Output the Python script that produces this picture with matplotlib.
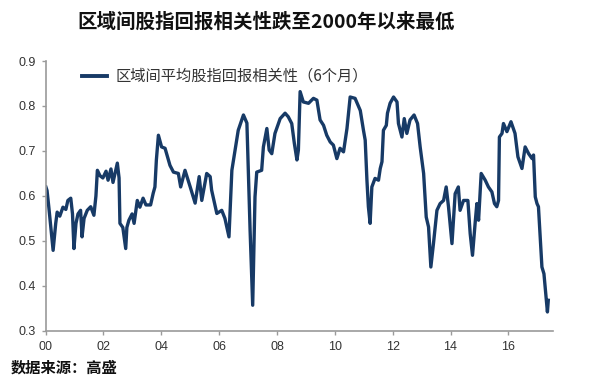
import matplotlib
matplotlib.use("Agg")
import matplotlib.pyplot as plt

plt.rcParams['font.family'] = ['Noto Sans CJK SC', 'DejaVu Sans']

title = "区域间股指回报相关性跌至2000年以来最低"
series_name = "区域间平均股指回报相关性（6个月）"
source = "数据来源：高盛"

years = [2000.01, 2000.05, 2000.11, 2000.18, 2000.26, 2000.35, 2000.40, 2000.49, 2000.60, 2000.70,
         2000.77, 2000.87, 2000.93, 2000.98, 2001.05, 2001.12, 2001.21, 2001.26, 2001.33, 2001.44,
         2001.56, 2001.67, 2001.74, 2001.79, 2001.88, 2001.98, 2002.09, 2002.16, 2002.26, 2002.33,
         2002.40, 2002.48, 2002.54, 2002.57, 2002.67, 2002.77, 2002.81, 2002.88, 2002.99, 2003.06,
         2003.17, 2003.26, 2003.37, 2003.47, 2003.63, 2003.72, 2003.78, 2003.83, 2003.90, 2004.01,
         2004.13, 2004.30, 2004.42, 2004.59, 2004.67, 2004.82, 2005.00, 2005.17, 2005.31, 2005.40,
         2005.57, 2005.69, 2005.74, 2005.92, 2006.09, 2006.20, 2006.34, 2006.44, 2006.55, 2006.66,
         2006.84, 2006.96, 2007.07, 2007.16, 2007.24, 2007.30, 2007.47, 2007.53, 2007.65, 2007.73,
         2007.82, 2007.93, 2008.11, 2008.28, 2008.39, 2008.51, 2008.60, 2008.69, 2008.74, 2008.80,
         2008.91, 2009.09, 2009.26, 2009.38, 2009.49, 2009.61, 2009.72, 2009.84, 2009.95, 2010.07,
         2010.18, 2010.30, 2010.42, 2010.53, 2010.70, 2010.88, 2010.99, 2011.05, 2011.11, 2011.16,
         2011.22, 2011.28, 2011.39, 2011.51, 2011.57, 2011.63, 2011.68, 2011.78, 2011.82, 2011.91,
         2012.03, 2012.15, 2012.20, 2012.32, 2012.40, 2012.49, 2012.60, 2012.74, 2012.86, 2012.95,
         2013.07, 2013.16, 2013.24, 2013.32, 2013.41, 2013.53, 2013.64, 2013.76, 2013.85, 2013.93,
         2014.05, 2014.16, 2014.27, 2014.33, 2014.45, 2014.60, 2014.68, 2014.76, 2014.85, 2014.91,
         2014.97, 2015.06, 2015.20, 2015.31, 2015.43, 2015.52, 2015.60, 2015.66, 2015.69, 2015.78,
         2015.83, 2015.95, 2016.09, 2016.23, 2016.33, 2016.47, 2016.58, 2016.70, 2016.82, 2016.87,
         2016.93, 2016.99, 2017.04, 2017.16, 2017.23, 2017.35, 2017.38]

values = [0.620, 0.612, 0.576, 0.530, 0.479, 0.539, 0.564, 0.555, 0.575, 0.570,
          0.590, 0.595, 0.560, 0.483, 0.539, 0.560, 0.568, 0.509, 0.550, 0.568,
          0.576, 0.557, 0.600, 0.657, 0.645, 0.640, 0.655, 0.635, 0.660, 0.630,
          0.650, 0.673, 0.640, 0.539, 0.530, 0.483, 0.530, 0.546, 0.560, 0.539,
          0.590, 0.575, 0.595, 0.580, 0.580, 0.606, 0.620, 0.680, 0.735, 0.709,
          0.706, 0.668, 0.653, 0.650, 0.620, 0.657, 0.620, 0.584, 0.643, 0.590,
          0.650, 0.643, 0.613, 0.561, 0.568, 0.550, 0.509, 0.657, 0.702, 0.746,
          0.780, 0.762, 0.524, 0.357, 0.598, 0.653, 0.657, 0.709, 0.750, 0.702,
          0.694, 0.739, 0.772, 0.784, 0.776, 0.761, 0.717, 0.680, 0.702, 0.832,
          0.809, 0.806, 0.817, 0.813, 0.769, 0.757, 0.735, 0.720, 0.713, 0.683,
          0.706, 0.698, 0.750, 0.820, 0.817, 0.790, 0.746, 0.724, 0.635, 0.576,
          0.539, 0.620, 0.639, 0.635, 0.661, 0.676, 0.746, 0.757, 0.784, 0.806,
          0.820, 0.809, 0.761, 0.731, 0.772, 0.739, 0.769, 0.780, 0.761, 0.709,
          0.650, 0.553, 0.531, 0.442, 0.494, 0.568, 0.583, 0.590, 0.620, 0.576,
          0.494, 0.605, 0.620, 0.568, 0.590, 0.590, 0.516, 0.468, 0.539, 0.583,
          0.546, 0.650, 0.635, 0.620, 0.609, 0.583, 0.576, 0.590, 0.731, 0.739,
          0.761, 0.743, 0.765, 0.739, 0.687, 0.661, 0.709, 0.694, 0.683, 0.691,
          0.598, 0.583, 0.576, 0.442, 0.427, 0.342, 0.368]

xticks = [2000, 2002, 2004, 2006, 2008, 2010, 2012, 2014, 2016]
xticklabels = ["00", "02", "04", "06", "08", "10", "12", "14", "16"]
yticks = [0.3, 0.4, 0.5, 0.6, 0.7, 0.8, 0.9]

line_color = "#173a66"
axis_color = "#9a9a9a"
text_color = "#333333"

fig = plt.figure(figsize=(6.0, 3.79), dpi=100)
ax = fig.add_axes([0.076, 0.127, 0.846, 0.712])

ax.plot(years, values, color=line_color, linewidth=2.4, solid_joinstyle='round',
        label=series_name)

ax.set_xlim(2000, 2017.55)
ax.set_ylim(0.3, 0.9)
ax.set_xticks(xticks)
ax.set_xticklabels(xticklabels)
ax.set_yticks(yticks)
ax.set_yticklabels([f"{v:.1f}" for v in yticks])

for s in ['top', 'right']:
    ax.spines[s].set_visible(False)
for s in ['left', 'bottom']:
    ax.spines[s].set_color(axis_color)
    ax.spines[s].set_linewidth(1.2)

ax.tick_params(axis='both', colors=axis_color, length=3, width=1, direction='out',
               labelcolor=text_color, labelsize=9, pad=4)
for lab in ax.get_xticklabels() + ax.get_yticklabels():
    lab.set_family(['Liberation Sans', 'DejaVu Sans'])

leg = ax.legend(loc='upper left', bbox_to_anchor=(0.045, 1.025), frameon=False,
                handlelength=1.6, handletextpad=0.6, fontsize=11)
for t in leg.get_texts():
    t.set_color(text_color)
for h in leg.get_lines():
    h.set_linewidth(2.8)

fig.text(0.443, 0.942, title, ha='center', va='center', fontsize=14,
         fontweight='bold', color='#111111')
fig.text(0.017, 0.029, source, ha='left', va='center', fontsize=11,
         fontweight='bold', color='#111111')

fig.savefig("out.png", dpi=100)
